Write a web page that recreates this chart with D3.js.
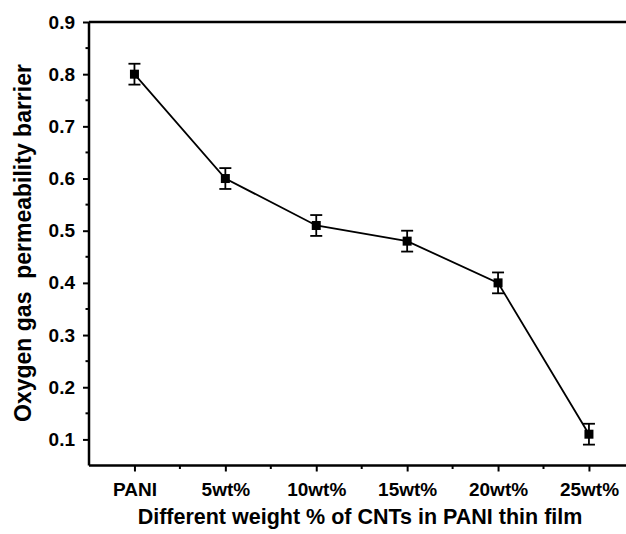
<!DOCTYPE html>
<html><head><meta charset="utf-8">
<script src="https://cdn.jsdelivr.net/npm/d3@7"></script>
<style>body{margin:0;background:#fff}svg{display:block}text{font-family:"Liberation Sans",Arial,sans-serif;font-weight:bold;fill:#000}</style>
</head><body>
<script>
const categories = ["PANI","5wt%","10wt%","15wt%","20wt%","25wt%"];
const barrier = [0.80,0.60,0.51,0.48,0.40,0.11];
const errors = [0.02,0.02,0.02,0.02,0.02,0.02];
const yTicks = [0.1,0.2,0.3,0.4,0.5,0.6,0.7,0.8,0.9];

const W=626,H=534;
const svg=d3.select("body").append("svg").attr("width",W).attr("height",H);
const pLeft=89, pTop=22, pBottom=465.5, pRight=640;
const x=d3.scaleLinear().domain([0.5,6.4]).range([pLeft,pLeft+(6.4-0.5)*90.9]);
const y=d3.scaleLinear().domain([0.05,0.9]).range([pBottom,pTop]);

// top border
svg.append("line").attr("x1",pLeft).attr("x2",pRight).attr("y1",pTop).attr("y2",pTop).attr("stroke","#000").attr("stroke-width",2.5);

// y axis
const ya=svg.append("g").attr("transform",`translate(${pLeft},0)`);
ya.call(d3.axisLeft(y).tickValues(yTicks).tickFormat(d3.format(".1f")).tickSize(6).tickPadding(8));
ya.selectAll(".tick text").attr("font-size",null).style("font-size","19px").style("font-family","'Liberation Sans',Arial,sans-serif").style("font-weight","bold");
ya.attr("font-size",null).attr("font-family",null);
ya.select(".domain").attr("stroke-width",2.5).attr("d",`M0,${pBottom}V${pTop}`);
ya.selectAll(".tick line").attr("stroke-width",2);
const yMinor=d3.range(0.15,0.9,0.1).map(v=>+v.toFixed(2));
ya.selectAll(".minor").data(yMinor).enter().append("line").attr("x1",0).attr("x2",-3.5).attr("y1",d=>y(d)).attr("y2",d=>y(d)).attr("stroke","#000").attr("stroke-width",2);

// x axis
const xa=svg.append("g").attr("transform",`translate(0,${pBottom})`);
xa.call(d3.axisBottom(x).tickValues(d3.range(1,7)).tickFormat(d=>categories[d-1]).tickSize(6).tickPadding(11));
xa.attr("font-size",null).attr("font-family",null);
xa.selectAll(".tick text").style("font-size","19px").style("font-family","'Liberation Sans',Arial,sans-serif").style("font-weight","bold");
xa.select(".domain").attr("stroke-width",2.5).attr("d",`M${pLeft},0H${pRight}`);
xa.selectAll(".tick line").attr("stroke-width",2);
const xMinor=d3.range(1.5,6.5,1);
xa.selectAll(".minor").data(xMinor).enter().append("line").attr("x1",d=>x(d)).attr("x2",d=>x(d)).attr("y1",0).attr("y2",3.5).attr("stroke","#000").attr("stroke-width",2);

// line
const idx=d3.range(categories.length);
svg.append("path").datum(idx).attr("fill","none").attr("stroke","#000").attr("stroke-width",1.8)
  .attr("d",d3.line().x(i=>x(i+1)).y(i=>y(barrier[i])));

// error bars
const eb=svg.append("g").attr("stroke","#000").attr("stroke-width",1.8);
idx.forEach(i=>{
  const cx=x(i+1), y1=y(barrier[i]+errors[i]), y2=y(barrier[i]-errors[i]);
  eb.append("line").attr("x1",cx).attr("x2",cx).attr("y1",y1).attr("y2",y2);
  eb.append("line").attr("x1",cx-6).attr("x2",cx+6).attr("y1",y1).attr("y2",y1);
  eb.append("line").attr("x1",cx-6).attr("x2",cx+6).attr("y1",y2).attr("y2",y2);
});
// markers
svg.append("g").selectAll("rect").data(idx).enter().append("rect")
  .attr("x",i=>x(i+1)-4.5).attr("y",i=>y(barrier[i])-4.5).attr("width",9).attr("height",9).attr("fill","#000");

// titles
svg.append("text").attr("x",360).attr("y",524).attr("text-anchor","middle").style("font-size","21.5px")
  .text("Different weight % of CNTs in PANI thin film");
svg.append("text").attr("transform","translate(31,243) rotate(-90)").attr("text-anchor","middle").style("font-size","23px")
  .style("white-space","pre").text("Oxygen gas  permeability barrier");
</script>
</body></html>
